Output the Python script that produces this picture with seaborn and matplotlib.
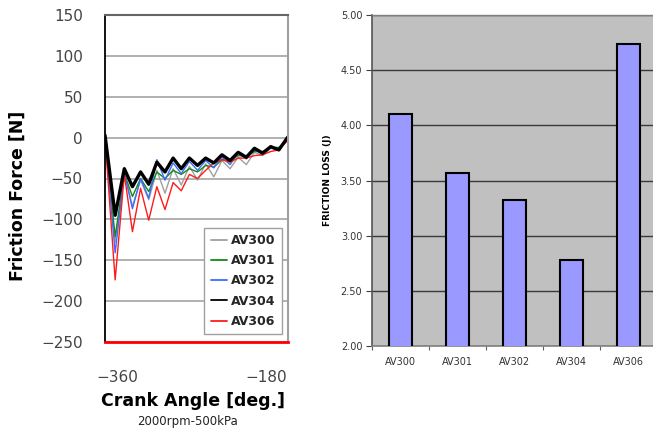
import matplotlib
matplotlib.use("Agg")
import matplotlib.pyplot as plt
import matplotlib.transforms as mtransforms
from matplotlib.lines import Line2D
from matplotlib.ticker import FixedLocator
import seaborn as sns

# ---------------- data: left panel (friction force vs crank angle) ----------------
angles = [-360, -350, -341, -333, -325, -317, -309, -301, -293, -285, -277, -269,
          -261, -253, -245, -237, -229, -221, -213, -205, -197, -189, -180]
av300 = [0, -128, -43, -84, -52, -76, -40, -68, -38, -58, -35, -52,
         -32, -48, -28, -38, -24, -33, -18, -22, -13, -16, -1]
av301 = [0, -121, -44, -72, -50, -66, -42, -50, -40, -45, -38, -42,
         -34, -36, -27, -28, -22, -23, -17, -17, -12, -12, -2]
av302 = [0, -141, -43, -87, -50, -74, -27, -52, -31, -44, -29, -40,
         -28, -37, -24, -33, -19, -26, -15, -20, -12, -14, 2]
av304 = [3, -95, -38, -60, -42, -57, -30, -42, -25, -38, -25, -34,
         -25, -31, -21, -28, -18, -24, -13, -19, -11, -15, 1]
av306 = [0, -174, -45, -115, -62, -101, -60, -88, -55, -65, -45, -50,
         -40, -31, -27, -30, -25, -25, -22, -21, -17, -15, -3]
series_names = ["AV300", "AV301", "AV302", "AV304", "AV306"]
left_yticks = [150, 100, 50, 0, -50, -100, -150, -200, -250]
left_xticks = [-360, -180]

# ---------------- data: right panel (friction loss) ----------------
bar_labels = ["AV300", "AV301", "AV302", "AV304", "AV306"]
friction_loss = [4.10, 3.57, 3.32, 2.78, 4.74]
right_yticks = [2.00, 2.50, 3.00, 3.50, 4.00, 4.50, 5.00]

sns.set_theme(style="white")
plt.rcParams["font.family"] = ["DejaVu Sans"]

W, H = 653, 434
fig = plt.figure(figsize=(W / 100, H / 100), dpi=100)
fig.patch.set_facecolor("white")

# ================= left panel =================
ax1 = fig.add_axes([105 / W, (H - 342) / H, 183 / W, 327 / H])
ax1.set_facecolor("white")

styles = {
    "AV300": ("#a0a0a0", 1.0, av300),
    "AV301": ("#108a10", 1.0, av301),
    "AV302": ("#3a6cff", 1.0, av302),
    "AV306": ("#ff1a1a", 1.0, av306),
    "AV304": ("#000000", 2.4, av304),
}
for z, name in enumerate(["AV300", "AV301", "AV302", "AV306", "AV304"]):
    color, lw, vals = styles[name]
    sns.lineplot(x=angles, y=vals, ax=ax1, color=color, linewidth=lw,
                 legend=False, zorder=3 + z, sort=False,
                 solid_joinstyle="round", solid_capstyle="round")

ax1.set_xlim(-360, -180)
ax1.set_ylim(-250, 150)
ax1.set_yticks(left_yticks)
ax1.set_yticklabels([str(v).replace("-", "\u2212") for v in left_yticks])
ax1.set_xticks(left_xticks)
ax1.set_xticklabels([str(v).replace("-", "\u2212") for v in left_xticks])
ax1.yaxis.grid(True, color="#b0b0b0", linewidth=1.4)
ax1.xaxis.grid(False)
ax1.set_axisbelow(True)
ax1.tick_params(axis="y", length=0, pad=16, labelsize=11, labelcolor="#444444")
ax1.tick_params(axis="x", length=0, pad=20, labelsize=11, labelcolor="#444444")
for lab, dx in zip(ax1.get_xticklabels(), [12, -22]):
    lab.set_transform(lab.get_transform() +
                      mtransforms.ScaledTranslation(dx / 100, 0, fig.dpi_scale_trans))

for side, col, lw in [("left", "#000000", 1.3), ("top", "#666666", 1.5),
                      ("right", "#a0a0a0", 1.5), ("bottom", "#ff0000", 2.0)]:
    ax1.spines[side].set_visible(True)
    ax1.spines[side].set_color(col)
    ax1.spines[side].set_linewidth(lw)
    ax1.spines[side].set_zorder(10)

ax1.set_ylabel("Friction Force [N]", fontsize=12.5, fontweight="bold", color="#000000")
ax1.yaxis.set_label_coords((27 - 105) / 183, (342 - 196) / 327)
ax1.set_xlabel("Crank Angle [deg.]", fontsize=12.5, fontweight="bold", color="#000000")
ax1.xaxis.set_label_coords((193 - 105) / 183, (342 - 392) / 327)
fig.text(188 / W, 1 - 422 / H, "2000rpm-500kPa", fontsize=8.5, color="#222222",
         ha="center", va="center")

handles = [Line2D([0], [0], color=styles[n][0], lw=1.3) for n in series_names]
leg = ax1.legend(handles, series_names, loc="lower right",
                 bbox_to_anchor=(0.967, 0.024), borderaxespad=0.0,
                 frameon=True, fancybox=False,
                 framealpha=1, edgecolor="#a0a0a0", handlelength=1.3,
                 handletextpad=0.35, labelspacing=0.58, borderpad=0.5,
                 prop={"weight": "bold", "size": 9})
leg.get_frame().set_linewidth(1.0)
leg.set_zorder(20)

# ================= right panel =================
ax2 = fig.add_axes([372 / W, (H - 346) / H, 285 / W, 331 / H])
ax2.set_facecolor("#c0c0c0")
sns.barplot(x=bar_labels, y=friction_loss, ax=ax2, color="#9999ff",
            saturation=1, edgecolor="black", linewidth=1.5, width=0.39, zorder=3)
ax2.set_ylim(2.0, 5.0)
ax2.set_xlim(-0.5, 4.5)
ax2.set_yticks(right_yticks)
ax2.set_yticklabels([f"{v:.2f}" for v in right_yticks])
ax2.yaxis.grid(True, color="#3a3a3a", linewidth=1.0)
ax2.xaxis.grid(False)
ax2.set_axisbelow(True)
ax2.tick_params(axis="y", length=4, width=0.8, color="#404040", direction="out",
                pad=3, labelsize=7, labelcolor="#333333", left=True)
ax2.tick_params(axis="x", which="major", length=0, pad=8, labelsize=7,
                labelcolor="#333333")
ax2.xaxis.set_minor_locator(FixedLocator([-0.5, 0.5, 1.5, 2.5, 3.5]))
ax2.tick_params(axis="x", which="minor", length=3, width=0.8, color="#606060",
                direction="out", bottom=True)
for side, col, lw in [("left", "#555555", 1.2), ("bottom", "#808080", 1.2),
                      ("top", "#808080", 1.0), ("right", "#808080", 1.0)]:
    ax2.spines[side].set_visible(True)
    ax2.spines[side].set_color(col)
    ax2.spines[side].set_linewidth(lw)
ax2.set_xlabel("")
ax2.set_ylabel("FRICTION LOSS (J)", fontsize=6.5, fontweight="bold", color="#000000")
ax2.yaxis.set_label_coords((332 - 372) / 285, 0.5)

fig.savefig("out.png", dpi=100)
